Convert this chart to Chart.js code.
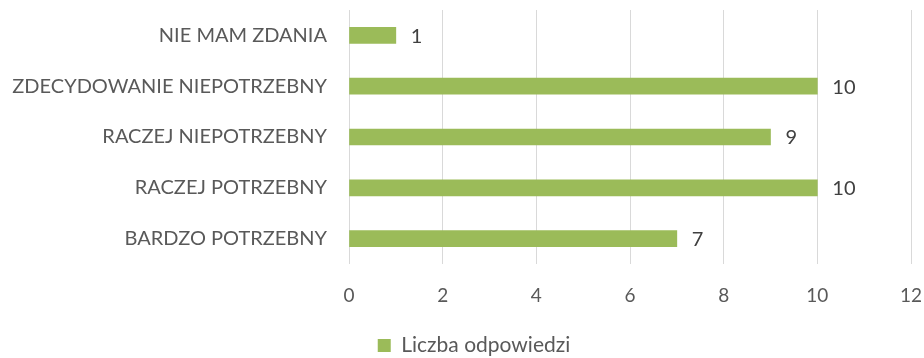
<!DOCTYPE html>
<html>
<head>
<meta charset="utf-8">
<script src="https://cdn.jsdelivr.net/npm/chart.js@4/dist/chart.umd.min.js"></script>
<style>
  html, body { margin: 0; padding: 0; background: #fff; }
  #wrap { width: 924px; height: 358px; position: relative; }
</style>
</head>
<body>
<div id="wrap"><canvas id="c" width="924" height="358"></canvas></div>
<script>
// Survey answers, listed top to bottom
const categories = [
  'NIE MAM ZDANIA',
  'ZDECYDOWANIE NIEPOTRZEBNY',
  'RACZEJ NIEPOTRZEBNY',
  'RACZEJ POTRZEBNY',
  'BARDZO POTRZEBNY'
];
const answerCounts = [1, 10, 9, 10, 7];
const seriesName = 'Liczba odpowiedzi';
const xTicks = [0, 2, 4, 6, 8, 10, 12];

const FONT = 'Lato, "Open Sans", sans-serif';

// Writes each bar's value just past its end
const valueLabels = {
  id: 'valueLabels',
  afterDatasetsDraw(chart) {
    const ctx = chart.ctx;
    const meta = chart.getDatasetMeta(0);
    ctx.save();
    ctx.font = '20px ' + FONT;
    ctx.fillStyle = '#404040';
    ctx.textAlign = 'left';
    ctx.textBaseline = 'middle';
    meta.data.forEach((bar, i) => {
      ctx.fillText(String(answerCounts[i]), bar.x + 15, bar.y + 1);
    });
    ctx.restore();
  }
};

// Nudges the legend so it sits under the middle of the plot, near the bottom edge
const legendOffset = {
  id: 'legendOffset',
  afterLayout(chart) {
    if (chart.legend) {
      chart.legend.left += 37;
      chart.legend.top += 8;
    }
  }
};

new Chart(document.getElementById('c'), {
  type: 'bar',
  data: {
    labels: categories,
    datasets: [{
      label: seriesName,
      data: answerCounts,
      backgroundColor: '#9BBB59',
      borderWidth: 0,
      barThickness: 16
    }]
  },
  options: {
    indexAxis: 'y',
    responsive: false,
    animation: false,
    devicePixelRatio: 1,
    layout: { padding: { left: 0, right: 13, top: 10, bottom: 0 } },
    scales: {
      x: {
        min: 0,
        max: 12,
        afterBuildTicks(axis) { axis.ticks = xTicks.map(v => ({ value: v })); },
        grid: { color: '#d9d9d9', lineWidth: 1, drawTicks: false },
        border: { display: false },
        ticks: {
          padding: 20,
          color: '#595959',
          font: { family: FONT, size: 19 }
        },
        afterFit(axis) {
          axis.height = 63;
          axis.paddingLeft = 0;
          axis.paddingRight = 0;
        }
      },
      y: {
        grid: { display: false, drawTicks: false },
        border: { display: false },
        ticks: {
          padding: 22,
          color: '#595959',
          font: { family: FONT, size: 20 }
        },
        afterFit(axis) {
          axis.width = 349;
          axis.paddingTop = 0;
          axis.paddingBottom = 0;
        }
      }
    },
    plugins: {
      legend: {
        position: 'bottom',
        labels: {
          boxWidth: 13,
          boxHeight: 13,
          padding: 0,
          color: '#595959',
          font: { family: FONT, size: 21 }
        }
      },
      tooltip: { enabled: false }
    }
  },
  plugins: [valueLabels, legendOffset]
});
</script>
</body>
</html>
